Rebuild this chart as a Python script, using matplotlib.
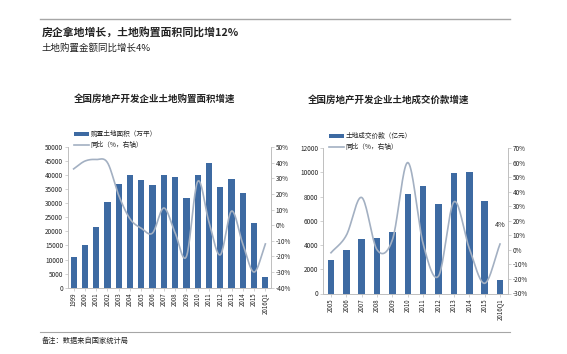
import numpy as np
import matplotlib
matplotlib.use("Agg")
import matplotlib.pyplot as plt
from matplotlib.patches import Patch
from matplotlib.lines import Line2D

plt.rcParams['font.family'] = ['Noto Sans CJK SC', 'DejaVu Sans']

# ---------------- data ----------------
years_l = ["1999", "2000", "2001", "2002", "2003", "2004", "2005", "2006", "2007",
           "2008", "2009", "2010", "2011", "2012", "2013", "2014", "2015", "2016Q1"]
area = [10900, 15200, 21700, 30400, 37000, 40000, 38200, 36500, 40200,
        39400, 31900, 40000, 44300, 35700, 38800, 33600, 22900, 3700]
area_yoy = [36, 41, 42, 40, 19, 4, -2, -5, 11, -5, -20, 28, 2, -19, 9, -12, -30, -12]

years_r = ["2005", "2006", "2007", "2008", "2009", "2010", "2011", "2012", "2013",
           "2014", "2015", "2016Q1"]
amount = [2800, 3600, 4500, 4600, 5100, 8200, 8900, 7400, 9900, 10000, 7600, 1100]
amount_yoy = [-2, 10, 36, 0, 7, 60, 4, -18, 33, 1, -23, 4]

BAR = '#3d6aa2'
LINE = '#a3b0c2'
SPINE = '#bfbfbf'
TXT = '#222222'

W, H = 567, 354
fig = plt.figure(figsize=(W / 100, H / 100), dpi=100)


def fx(px):
    return px / W


def fy(py):
    return 1 - py / H


def smooth(x, y, n=20):
    # Catmull-Rom rendering of the line through the data points (Excel-like smoothing)
    x = np.asarray(x, float)
    y = np.asarray(y, float)
    P = np.column_stack([x, y])
    P = np.vstack([P[0] * 2 - P[1], P, P[-1] * 2 - P[-2]])
    out = []
    for i in range(1, len(P) - 2):
        p0, p1, p2, p3 = P[i - 1], P[i], P[i + 1], P[i + 2]
        t = np.linspace(0, 1, n, endpoint=False)[:, None]
        c1 = p1 + (p2 - p0) / 6
        c2 = p2 - (p3 - p1) / 6
        seg = ((1 - t) ** 3) * p1 + 3 * ((1 - t) ** 2) * t * c1 + 3 * (1 - t) * t ** 2 * c2 + t ** 3 * p2
        out.append(seg)
    out.append(P[-2][None, :])
    out = np.vstack(out)
    return out[:, 0], out[:, 1]


def style(ax, ax2):
    for a in (ax, ax2):
        a.spines['top'].set_visible(False)
        for s in ('left', 'right', 'bottom'):
            a.spines[s].set_color(SPINE)
            a.spines[s].set_linewidth(0.6)
        a.tick_params(axis='both', colors=SPINE, labelcolor=TXT, labelsize=4.6,
                      length=2, width=0.5, pad=1.5)
    ax.tick_params(axis='x', labelrotation=90, labelsize=4.4)


def panel(rect, cats, bars, yoy, ylim, yticks, y2lim, y2ticks, bw, title, tpos, legtxt, legpos):
    ax = fig.add_axes(rect)
    x = np.arange(len(cats))
    ax.bar(x, bars, width=bw, color=BAR, zorder=2)
    ax.set_xlim(-0.5, len(cats) - 0.5)
    ax.set_ylim(*ylim)
    ax.set_yticks(yticks)
    ax.set_xticks(x)
    ax.set_xticklabels(cats)
    ax2 = ax.twinx()
    sx, sy = smooth(x, yoy)
    ax2.plot(sx, sy, color=LINE, lw=1.2, zorder=3)
    ax2.set_ylim(*y2lim)
    ax2.set_yticks(y2ticks)
    ax2.set_yticklabels([f"{v}%" for v in y2ticks])
    style(ax, ax2)
    fig.text(fx(tpos[0]), fy(tpos[1]), title, ha='center', va='center',
             fontsize=6.8, fontweight='bold', color=TXT)
    handles = [Patch(facecolor=BAR, edgecolor='none'),
               Line2D([0], [0], color=LINE, lw=1.2)]
    fig.legend(handles, [legtxt, "同比（%，右轴）"], loc='upper left',
               bbox_to_anchor=(fx(legpos[0]), fy(legpos[1])), frameon=False,
               fontsize=4.8, handlelength=2.2, handleheight=0.5, handletextpad=0.3,
               labelspacing=0.45, borderpad=0, borderaxespad=0, labelcolor=TXT)
    return ax, ax2


# left panel
panel([fx(68), fy(287.7), fx(271 - 68), (287.7 - 147) / H], years_l, area, area_yoy,
      (0, 50000), list(range(0, 50001, 5000)), (-40, 50), list(range(-40, 51, 10)), 0.55,
      "全国房地产开发企业土地购置面积增速", (155, 99), "购置土地面积（万平）", (74, 130))

# right panel
axr, axr2 = panel([fx(323.3), fy(293.5), fx(507.7 - 323.3), (293.5 - 148) / H], years_r, amount,
                  amount_yoy, (0, 12000), list(range(0, 12001, 2000)), (-30, 70),
                  list(range(-30, 71, 10)), 0.42,
                  "全国房地产开发企业土地成交价款增速", (389, 100), "土地成交价款（亿元）", (329, 132))
axr2.annotate("4%", xy=(len(years_r) - 1, amount_yoy[-1]), xytext=(0, 14),
              textcoords='offset points', ha='center', va='center', fontsize=5.2, color=TXT)

# header
fig.add_artist(Line2D([fx(40), fx(510)], [fy(19), fy(19)], color='#a6a6a6', lw=1.0))
fig.text(fx(42), fy(32), "房企拿地增长，土地购置面积同比增12%", fontsize=7.8, fontweight='bold',
         color=TXT, va='center', ha='left')
fig.text(fx(42), fy(48), "土地购置金额同比增长4%", fontsize=6.8, color=TXT, va='center', ha='left')

# footer
fig.add_artist(Line2D([fx(40), fx(510)], [fy(331.5), fy(331.5)], color='#a6a6a6', lw=0.8))
fig.text(fx(42), fy(341), "备注：数据来自国家统计局", fontsize=5.2, color=TXT, va='center', ha='left')

fig.savefig("out.png", dpi=100)
